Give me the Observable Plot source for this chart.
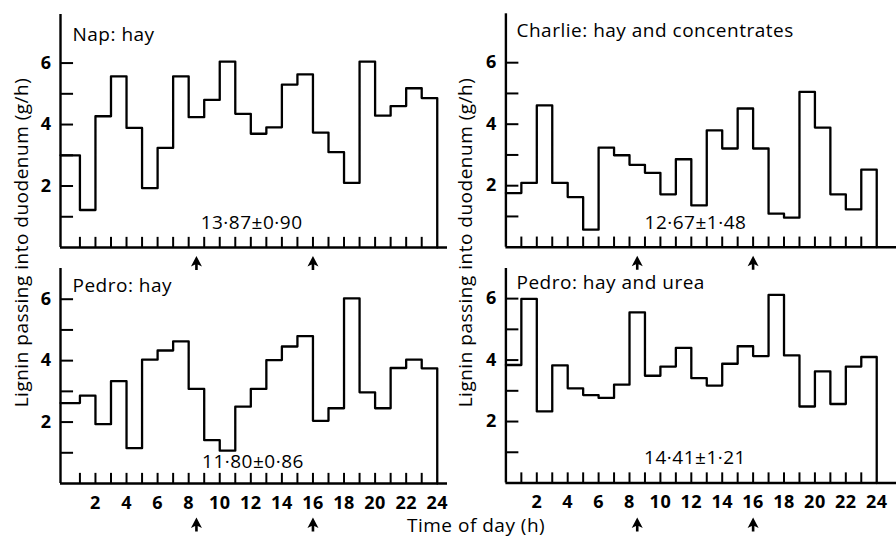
<!DOCTYPE html>
<html><head><meta charset="utf-8">
<script src="https://cdn.jsdelivr.net/npm/d3@7"></script>
<script src="https://cdn.jsdelivr.net/npm/@observablehq/plot@0.6"></script>
<style>
html,body{margin:0;padding:0;background:#fff;}
#chart{position:relative;width:896px;height:537px;font-family:"Open Sans",Lato,sans-serif;color:#000;overflow:hidden;background:#fff}
#chart svg{position:absolute;}
#chart svg text{letter-spacing:0.5px;}
.lab{position:absolute;font-size:19px;letter-spacing:0.5px;white-space:nowrap;line-height:1;}
</style></head><body><div id="chart"></div>
<script>
// ---- data ----
const hourEdges = d3.range(25);           // 0..24
const napHay = [3.0, 1.22, 4.27, 5.57, 3.89, 1.93, 3.24, 5.57, 4.24, 4.8, 6.05, 4.35, 3.7, 3.91, 5.3, 5.63, 3.74, 3.1, 2.1, 6.05, 4.29, 4.6, 5.18, 4.86];
const charlieHayConc = [1.76, 2.09, 4.61, 2.09, 1.63, 0.57, 3.24, 2.99, 2.68, 2.42, 1.72, 2.86, 1.36, 3.8, 3.21, 4.51, 3.21, 1.09, 0.96, 5.05, 3.89, 1.72, 1.23, 2.52];
const pedroHay = [2.62, 2.86, 1.93, 3.33, 1.15, 4.03, 4.33, 4.63, 3.08, 1.41, 1.07, 2.5, 3.08, 4.02, 4.46, 4.8, 2.04, 2.45, 6.03, 2.97, 2.45, 3.76, 4.03, 3.75];
const pedroHayUrea = [3.84, 5.99, 2.33, 3.83, 3.08, 2.86, 2.77, 3.2, 5.55, 3.49, 3.79, 4.4, 3.41, 3.17, 3.88, 4.45, 4.13, 6.12, 4.15, 2.49, 3.63, 2.57, 3.79, 4.1];
const panelTitles = ["Nap: hay", "Charlie: hay and concentrates", "Pedro: hay", "Pedro: hay and urea"];
const meanLabels = ["13·87±0·90", "12·67±1·48", "11·80±0·86", "14·41±1·21"];
const feedingTimes = [8.5, 16];
const xTickLabels = [2, 4, 6, 8, 10, 12, 14, 16, 18, 20, 22, 24];
const yTickLabels = [2, 4, 6];
const yMinorTicks = [1, 2, 3, 4, 5, 6];
const xMinorTicks = d3.range(1, 24);
const yTitle = "Lignin passing into duodenum (g/h)";
const xTitle = "Time of day (h)";

// ---- layout ----
const panels = [
  {values: napHay, title: 0, left: 0, top: 0, width: 448, height: 280, ml: 60, mr: 1, mt: 14, mb: 33, xd: [-0.25, 24.66], yd: [0, 7.58], xl: false, note: [12.05, 0.81], tdx: 12, tdy: 12.5, adY: 15.5},
  {values: charlieHayConc, title: 1, left: 448, top: 0, width: 448, height: 280, ml: 57.4, mr: 0, mt: 13.3, mb: 33.3, xd: [0, 25.28], yd: [0, 7.59], xl: false, note: [12.27, 0.8], tdx: 10.6, tdy: 10, adY: 15.5},
  {values: pedroHay, title: 2, left: 0, top: 260, width: 448, height: 277, ml: 60, mr: 1, mt: 8, mb: 54, xd: [-0.25, 24.66], yd: [0, 7.0], xl: true, note: [12.14, 0.69], tdx: 12, tdy: 10, adY: 41},
  {values: pedroHayUrea, title: 3, left: 448, top: 260, width: 448, height: 277, ml: 57.4, mr: 0, mt: 8, mb: 54.5, xd: [0, 25.28], yd: [0, 6.98], xl: true, note: [12.24, 0.81], tdx: 10.6, tdy: 7, adY: 41.5}
];

const arrowSymbol = {
  draw(ctx) {
    ctx.moveTo(0, -7);
    ctx.lineTo(5.5, 3.5);
    ctx.lineTo(1.3, 1.5);
    ctx.lineTo(1.3, 7);
    ctx.lineTo(-1.3, 7);
    ctx.lineTo(-1.3, 1.5);
    ctx.lineTo(-5.5, 3.5);
    ctx.closePath();
  }
};

const chart = document.getElementById("chart");
const FONT = "'Open Sans', Lato, sans-serif";

panels.forEach((p, k) => {
  const x0 = p.xd[0];
  const n = p.values.length;
  const steps = p.values.map((v, i) => ({h: i === 0 ? x0 : hourEdges[i], v}));
  steps.push({h: hourEdges[n], v: p.values[n - 1]}, {h: hourEdges[n], v: 0});
  const [nx, ny] = p.note;
  const svg = Plot.plot({
    width: p.width, height: p.height,
    marginLeft: p.ml, marginRight: p.mr, marginTop: p.mt, marginBottom: p.mb,
    x: {domain: p.xd, axis: null},
    y: {domain: p.yd, axis: null},
    style: {background: "transparent", overflow: "visible", fontFamily: FONT, color: "black"},
    marks: [
      Plot.ruleX(xMinorTicks, {x: d => d, y1: 0, y2: 0.33, stroke: "black", strokeWidth: 2}),
      Plot.ruleY(yMinorTicks, {y: d => d, x1: x0, x2: x0 + 0.84, stroke: "black", strokeWidth: 2}),
      Plot.line(steps, {x: "h", y: "v", curve: "step-after", stroke: "black", strokeWidth: 2.3}),
      Plot.ruleY([0], {stroke: "black", strokeWidth: 2.4}),
      Plot.ruleX([x0], {stroke: "black", strokeWidth: 2.4}),
      Plot.text(yTickLabels, {x: () => x0, y: d => d, text: d => String(d), textAnchor: "end", dx: -9, fontSize: 18, fontWeight: 700}),
      Plot.text([panelTitles[p.title]], {frameAnchor: "top-left", dx: p.tdx, dy: p.tdy, fontSize: 19}),
      Plot.text([meanLabels[p.title]], {x: () => nx, y: () => ny, fontSize: 19}),
      Plot.dot(feedingTimes, {x: d => d, y: () => 0, symbol: arrowSymbol, fill: "black", stroke: "none", dy: p.adY}),
      p.xl ? Plot.text(xTickLabels, {x: d => d, y: () => 0, text: d => String(d), dy: 19.5, fontSize: 18, fontWeight: 700}) : null
    ]
  });
  svg.style.left = p.left + "px";
  svg.style.top = p.top + "px";
  chart.appendChild(svg);
});

function addLabel(text, cx, cy, rotate) {
  const d = document.createElement("div");
  d.className = "lab";
  d.textContent = text;
  chart.appendChild(d);
  const w = d.offsetWidth, h = d.offsetHeight;
  d.style.left = (cx - w / 2) + "px";
  d.style.top = (cy - h / 2) + "px";
  if (rotate) d.style.transform = "rotate(-90deg)";
}
addLabel(yTitle, 22, 242, true);
addLabel(yTitle, 466, 242, true);
addLabel(xTitle, 476, 525, false);
</script></body></html>
